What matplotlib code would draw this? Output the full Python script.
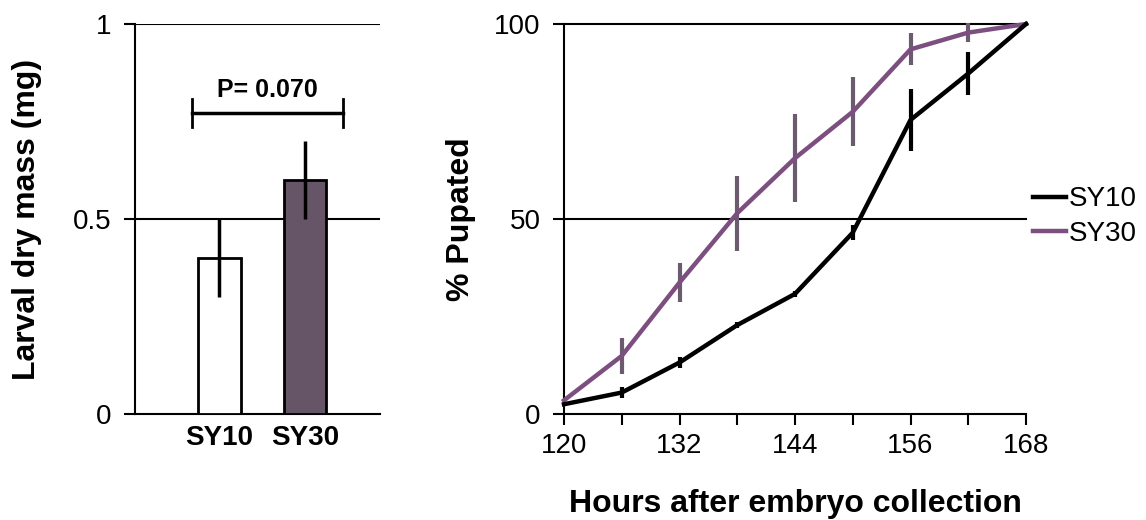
import matplotlib.pyplot as plt

plt.rcParams['font.family'] = ['Liberation Sans', 'DejaVu Sans']

# Left panel: larval dry mass
groups = ['SY10', 'SY30']
mass = [0.40, 0.60]
mass_err = [0.10, 0.10]

# Right panel: pupation time course
hours = [120, 126, 132, 138, 144, 150, 156, 162, 168]
sy10 = [2.5, 5.5, 13.2, 22.8, 30.8, 46.5, 75.4, 87.3, 100]
sy10_err = [0, 1.5, 1.5, 0.8, 0.8, 2.0, 7.9, 5.4, 0]
sy30 = [3.5, 14.9, 33.7, 51.5, 65.6, 77.5, 93.5, 97.8, 100]
sy30_err = [0, 4.6, 5.1, 9.6, 11.3, 8.8, 4.1, 2.4, 0]

BAR_FILL = '#665566'
SY30_LINE = '#7d4f80'
SY30_ERR = '#6c5a6e'

fig = plt.figure(figsize=(11.46, 5.2), dpi=100)

#--- left panel
ax1 = fig.add_axes([135/1146, 1 - 414/520, 245/1146, 390/520])
xpos = [0, 1]
ax1.bar(xpos, mass, width=0.5, color=['white', BAR_FILL], edgecolor='black',
        linewidth=2, zorder=3)
ax1.errorbar(xpos, mass, yerr=mass_err, fmt='none', ecolor='black',
             elinewidth=2.5, capsize=0, zorder=4)
ax1.set_xlim(-0.988, 1.877)
ax1.set_ylim(0, 1)
ax1.set_yticks([0, 0.5, 1])
ax1.set_yticklabels(['0', '0.5', '1'])
ax1.set_xticks(xpos)
ax1.set_xticklabels(groups, fontweight='bold', fontsize=20)
ax1.tick_params(axis='x', length=0, pad=8)
ax1.tick_params(axis='y', length=8, width=1.5, labelsize=20, pad=9)
for y in [0.5, 1]:
    ax1.axhline(y, color='black', linewidth=1.5, zorder=1)
for s in ['top', 'right']:
    ax1.spines[s].set_visible(False)
for s in ['left', 'bottom']:
    ax1.spines[s].set_linewidth(1.5)
ax1.set_ylabel('Larval dry mass (mg)', fontweight='bold', fontsize=23, labelpad=22)

# significance bracket
bx0, bx1, by, bh = -0.32, 1.444, 0.772, 0.036
ax1.plot([bx0, bx1], [by, by], color='black', linewidth=2.5)
ax1.plot([bx0, bx0], [by - bh, by + bh], color='black', linewidth=2)
ax1.plot([bx1, bx1], [by - bh, by + bh], color='black', linewidth=2)
ax1.text(0.56, 0.83, 'P= 0.070', ha='center', va='center',
         fontweight='bold', fontsize=18)

#--- right panel
ax2 = fig.add_axes([564/1146, 1 - 414/520, 462/1146, 390/520])
for y in [50, 100]:
    ax2.axhline(y, color='black', linewidth=1.5, zorder=1, clip_on=False)
ax2.errorbar(hours, sy10, yerr=sy10_err, color='black', ecolor='black',
             linewidth=3.2, elinewidth=3, capsize=0, label='SY10', zorder=4,
             clip_on=False)
ax2.errorbar(hours, sy30, yerr=sy30_err, color=SY30_LINE, ecolor=SY30_ERR,
             linewidth=3.2, elinewidth=3, capsize=0, label='SY30', zorder=3,
             clip_on=False)
ax2.set_xlim(120, 168)
ax2.set_ylim(0, 100)
ax2.set_xticks(hours)
ax2.set_xticklabels([str(h) if (h - 120) % 12 == 0 else '' for h in hours])
ax2.set_yticks([0, 50, 100])
ax2.tick_params(axis='both', length=8, width=1.5, labelsize=20)
ax2.tick_params(axis='x', pad=6)
ax2.tick_params(axis='y', pad=9)
for s in ['top', 'right']:
    ax2.spines[s].set_visible(False)
for s in ['left', 'bottom']:
    ax2.spines[s].set_linewidth(1.5)
ax2.set_xlabel('Hours after embryo collection', fontweight='bold', fontsize=23,
               labelpad=21)
ax2.set_ylabel('% Pupated', fontweight='bold', fontsize=23, labelpad=13)

handles, labels = ax2.get_legend_handles_labels()
handles = [h[0] for h in handles]
ax2.legend(handles, labels, loc='center left', bbox_to_anchor=(1.015, 0.506),
           frameon=False, fontsize=20, handlelength=1.2, handletextpad=0.1,
           borderpad=0, borderaxespad=0, labelspacing=0.3)

fig.savefig('out.png', dpi=100)
